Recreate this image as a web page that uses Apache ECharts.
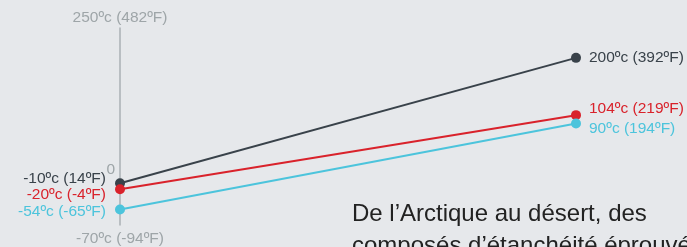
<!DOCTYPE html>
<html><head><meta charset="utf-8">
<script src="https://cdn.jsdelivr.net/npm/echarts@6/dist/echarts.min.js"></script>
<style>html,body{margin:0;padding:0;background:#e6e8eb;}#c{width:687px;height:247px;}</style>
</head><body><div id="c"></div>
<script>
const points = [0, 1];
const seriesNames = ['dark', 'red', 'cyan'];
const startC = [-10, -20, -54];
const startF = [14, -4, -65];
const endC = [200, 104, 90];
const endF = [392, 219, 194];
const axisTopLabel = '250ºc (482ºF)';
const axisBottomLabel = '-70ºc (-94ºF)';
const zeroLabel = '0';
const captionLines = ['De l’Arctique au désert, des', 'composés d’étanchéité éprouvés'];

const colors = ['#39424a', '#d9222b', '#4cc4dc'];
const leftOffsets = [[0, -4], [0, 6], [0, 2]];
const rightOffsets = [[0, 0], [0, -6], [0, 5]];
const font = '"Liberation Sans", Arial, sans-serif';
const fs = 15.5;

const chart = echarts.init(document.getElementById('c'), null, {renderer: 'canvas'});
const series = seriesNames.map((n, i) => ({
  name: n,
  type: 'line',
  symbol: 'circle',
  symbolSize: 10,
  lineStyle: {width: 2, color: colors[i]},
  itemStyle: {color: colors[i]},
  z: 2 + i,
  data: [
    {value: [points[0], startC[i]], label: {show: true, position: 'left', distance: 9, offset: leftOffsets[i],
      formatter: startC[i] + 'ºc (' + startF[i] + 'ºF)'}},
    {value: [points[1], endC[i]], label: {show: true, position: 'right', distance: 8, offset: rightOffsets[i],
      formatter: endC[i] + 'ºc (' + endF[i] + 'ºF)'}}
  ],
  label: {color: colors[i], fontSize: fs, fontFamily: font}
}));

chart.setOption({
  backgroundColor: '#e6e8eb',
  animation: false,
  grid: {left: 120, right: 111, top: 28, height: 200},
  xAxis: {type: 'value', min: 0, max: 1, show: false},
  yAxis: [{
    type: 'value', min: -80, max: 250,
    axisLine: {show: true, lineStyle: {color: '#aab1b5', width: 1.5}},
    axisTick: {show: false}, splitLine: {show: false},
    axisLabel: {
      color: '#9ea5a8', fontSize: fs, fontFamily: font, margin: 5, verticalAlign: 'bottom',
      customValues: [0], formatter: v => (v === 0 ? zeroLabel : '')
    },
    name: axisTopLabel, nameLocation: 'end', nameGap: 2,
    nameTextStyle: {color: '#9ea5a8', fontSize: fs, fontFamily: font, align: 'center', verticalAlign: 'bottom'}
  }, {
    type: 'value', min: -80, max: 250, position: 'left',
    axisLine: {show: false}, axisTick: {show: false}, splitLine: {show: false}, axisLabel: {show: false},
    name: axisBottomLabel, nameLocation: 'start', nameGap: 6,
    nameTextStyle: {color: '#9ea5a8', fontSize: fs, fontFamily: font, align: 'center', verticalAlign: 'top'}
  }],
  series: series,
  graphic: [{
    type: 'text', left: 352, top: 198,
    style: {text: captionLines.join('\n'), fill: '#222', fontSize: 24, lineHeight: 32, fontFamily: font}
  }]
});
</script></body></html>
